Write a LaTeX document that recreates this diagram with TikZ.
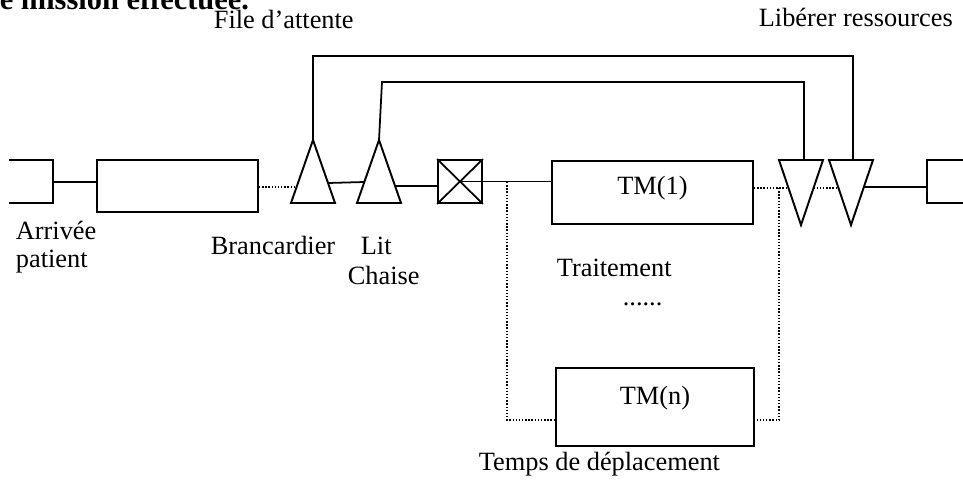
\documentclass[tikz,border=0pt]{standalone}
\usepackage{fontspec}
\setmainfont{Liberation Serif}

\begin{document}
\begin{tikzpicture}[x=0.02cm, y=-0.02cm, line width=1pt,
box/.style={rectangle, draw, line width=1.1pt, inner sep=0pt},
txt/.style={font=\fontsize{15}{18}\selectfont, anchor=base west, inner sep=0pt},
link/.style={line width=1pt},
dots/.style={densely dotted, line width=0.8pt}]
\useasboundingbox (0,0) rectangle (963,480);
\node[txt, font=\fontsize{17.3}{20}\selectfont\bfseries] (mission) at (-1,10) {e mission effectuée.};
% entree et file du brancardier
\draw[box] (9,160) -- (53,160) -- (53,203) -- (9,203);
\coordinate (entry) at (53,182);
\node[box, minimum width=3.22cm, minimum height=1.04cm] (queue) at (177.5,186) {};
% ressources : brancardier, lit / chaise
\draw[box] (291,203) -- (313,140) -- (335,203) -- cycle;
\draw[box] (357,203) -- (379,140) -- (401,203) -- cycle;
\coordinate (brancard) at (313,140);
\coordinate (lit) at (379,140);
\coordinate (brancardL) at (296.6,187);
\coordinate (brancardR) at (328,183);
\coordinate (litL) at (364.3,182);
\coordinate (litR) at (395,186);
\node[box, minimum width=0.88cm, minimum height=0.86cm] (gate) at (460,181.5) {};
\draw[link] (gate.north west) -- (gate.south east) (gate.north east) -- (gate.south west);
% traitements
\node[box, minimum width=4.02cm, minimum height=1.26cm] (tm1) at (652.5,192.5) {};
\node[box, minimum width=3.96cm, minimum height=1.56cm] (tmn) at (655,407) {};
\node[txt, anchor=base] (tm1txt) at (652.5,194) {TM(1)};
\node[txt, anchor=base] (tmntxt) at (655,404) {TM(n)};
% liberation des ressources et sortie
\draw[box] (779,160) -- (823,160) -- (801,225) -- cycle;
\draw[box] (829,160) -- (873,160) -- (851,225) -- cycle;
\coordinate (free1) at (804,160);
\coordinate (free2) at (853,160);
\coordinate (free1L) at (788.5,188);
\coordinate (free1R) at (813.5,188);
\coordinate (free2L) at (838.5,188);
\coordinate (free2R) at (864,187);
\draw[box] (963,160) -- (927,160) -- (927,203) -- (963,203);
\coordinate (exit) at (927,187);
% liaisons
\draw[link] (entry) -- (entry -| queue.west);
\draw[dots] (queue.east |- brancardL) -- (brancardL);
\draw[link] (brancardR) -- (litL);
\draw[link] (litR) -- (litR -| gate.west);
\draw[link] (gate.center) -- (gate.center -| tm1.west);
\draw[dots] (507,182) |- (tmn.west |- 0,420);
\draw[dots] (tm1.east |- free1L) -- (free1L);
\draw[dots] (779,188) |- (tmn.east |- 0,420);
\draw[dots] (free1R) -- (free2L);
\draw[link] (free2R) -- (exit);
\draw[link] (brancard) -- ++(0,-84) -| (free2);
\draw[link] (lit) -- (382,82) -| (free1);
% textes
\node[txt] (attente) at (213,29) {File d’attente};
\node[txt] (liberer) at (758,27) {Libérer ressources};
\node[txt] (arrivee) at (15,239) {Arrivée};
\node[txt] (patient) at (15,267) {patient};
\node[txt] (brancardier) at (210,254) {Brancardier};
\node[txt] (littxt) at (360,254) {Lit};
\node[txt] (chaise) at (347,284) {Chaise};
\node[txt] (traitement) at (556,276) {Traitement};
\node[txt] (etc) at (622,305) {......};
\node[txt] (deplacement) at (478,470) {Temps de déplacement};
\end{tikzpicture}
\end{document}
